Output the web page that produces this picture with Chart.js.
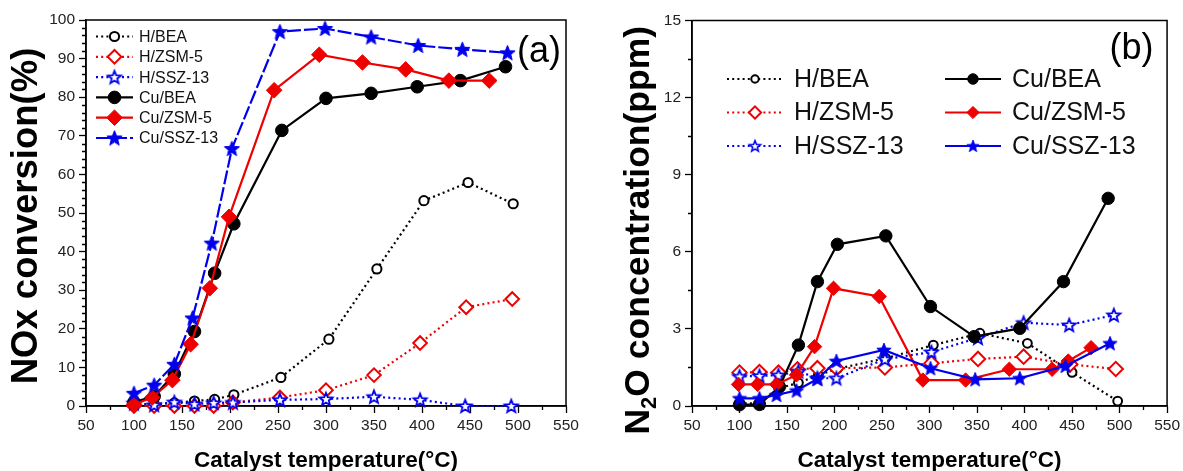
<!DOCTYPE html>
<html><head><meta charset="utf-8">
<script src="https://cdn.jsdelivr.net/npm/chart.js@4.4.1/dist/chart.umd.min.js"></script>
<style>
html,body{margin:0;padding:0;background:#fff;}
#wrap{position:relative;width:1183px;height:471px;overflow:hidden;}
canvas{position:absolute;top:0;}
#a{left:0;}
#b{left:591px;}
</style></head><body>
<div id="wrap"><canvas id="a" width="591" height="471"></canvas><canvas id="b" width="592" height="471"></canvas></div>
<script>
// ---------- DATA ----------
const seriesNames = ["H/BEA", "H/ZSM-5", "H/SSZ-13", "Cu/BEA", "Cu/ZSM-5", "Cu/SSZ-13"];
const xTicks = [50, 100, 150, 200, 250, 300, 350, 400, 450, 500, 550];
const yTicksA = [0, 10, 20, 30, 40, 50, 60, 70, 80, 90, 100];
const yTicksB = [0, 3, 6, 9, 12, 15];

// Panel (a): NOx conversion (%)
const tA_HBEA   = [100, 121, 142, 163, 184, 204, 253, 303, 353, 402, 448, 495];
const noxHBEA   = [0.3, 0.5, 0.8, 1.3, 1.7, 2.9, 7.4, 17.3, 35.5, 53.2, 57.9, 52.4];
const tA_HZSM   = [100, 121, 142, 163, 183, 203, 252, 300, 350, 398, 446, 494];
const noxHZSM   = [0, 0, 0, 0, 0, 0.9, 2.2, 4.1, 8.0, 16.3, 25.6, 27.7];
const tA_HSSZ   = [100, 121, 142, 163, 183, 203, 252, 300, 350, 398, 445, 493];
const noxHSSZ   = [0.7, 0.3, 1.0, 0.5, 0.8, 0.9, 1.6, 1.8, 2.4, 1.6, 0, 0];
const tA_CuBEA  = [100, 121, 142, 163, 184, 204, 254, 300, 347, 395, 440, 487];
const noxCuBEA  = [1.0, 2.5, 8.3, 19.3, 34.4, 47.2, 71.4, 79.7, 81.0, 82.7, 84.3, 87.9];
const tA_CuZSM  = [100, 119, 140, 159, 179, 199, 246, 293, 338, 383, 428, 470];
const noxCuZSM  = [0.4, 2.2, 6.7, 16.0, 30.5, 49.0, 81.8, 91.0, 89.0, 87.2, 84.3, 84.3];
const tA_CuSSZ  = [100, 121, 142, 161, 181, 202, 252, 299, 347, 396, 442, 489];
const noxCuSSZ  = [3.3, 5.4, 10.8, 22.8, 42.2, 66.7, 97.0, 97.8, 95.6, 93.4, 92.4, 91.5];

// Panel (b): N2O concentration (ppm)
const tB_HBEA   = [100, 121, 142, 162, 183, 203, 254, 304, 353, 403, 450, 498];
const n2oHBEA   = [0.1, 0.1, 0.7, 0.9, 1.2, 1.45, 1.86, 2.37, 2.83, 2.44, 1.31, 0.19];
const tB_HZSM   = [100, 121, 141, 161, 182, 202, 253, 302, 351, 399, 448, 496];
const n2oHZSM   = [1.3, 1.32, 1.3, 1.43, 1.47, 1.47, 1.5, 1.66, 1.83, 1.92, 1.62, 1.44];
const tB_HSSZ   = [100, 121, 141, 162, 182, 202, 253, 302, 351, 399, 447, 494];
const n2oHSSZ   = [1.15, 1.17, 1.2, 1.35, 1.08, 1.08, 1.82, 2.1, 2.65, 3.24, 3.15, 3.54];
const tB_CuBEA  = [100, 121, 142, 162, 182, 203, 254, 301, 347, 395, 441, 488];
const n2oCuBEA  = [0.05, 0.06, 0.75, 2.37, 4.84, 6.29, 6.62, 3.87, 2.7, 3.02, 4.84, 8.08];
const tB_CuZSM  = [99, 119, 139, 160, 179, 199, 247, 293, 338, 384, 429, 446, 470];
const n2oCuZSM  = [0.84, 0.84, 0.84, 1.21, 2.31, 4.58, 4.26, 1.01, 1.01, 1.43, 1.43, 1.75, 2.27];
const tB_CuSSZ  = [100, 121, 139, 160, 182, 202, 252, 301, 348, 395, 443, 490];
const n2oCuSSZ  = [0.3, 0.3, 0.43, 0.6, 1.05, 1.75, 2.18, 1.47, 1.04, 1.08, 1.56, 2.44];

// ---------- STYLE ----------
const BLACK = '#000000', RED = '#ee0000', BLUE = '#0000ee';
const FONT = '"Liberation Sans", Arial, Helvetica, sans-serif';

function starPath(g, R) {
  const r = R * 0.43;
  g.beginPath();
  for (let i = 0; i < 10; i++) {
    const a = -Math.PI / 2 + i * Math.PI / 5;
    const rr = (i % 2) ? r : R;
    g.lineTo(Math.cos(a) * rr, Math.sin(a) * rr);
  }
  g.closePath();
}
function starCanvas(R, fill, stroke, lw) {
  const s = Math.ceil(2 * R + lw + 4);
  const c = document.createElement('canvas');
  c.width = s; c.height = s;
  const g = c.getContext('2d');
  g.translate(s / 2, s / 2 + R * 0.08);
  starPath(g, R);
  g.fillStyle = fill; g.fill();
  g.lineWidth = lw; g.strokeStyle = stroke; g.lineJoin = 'miter'; g.stroke();
  return c;
}

function pts(xs, ys) { return xs.map((x, i) => ({ x: x, y: ys[i] })); }

function makeDatasets(panel) {
  const big = panel === 'a';
  const data = panel === 'a'
    ? [[tA_HBEA, noxHBEA], [tA_HZSM, noxHZSM], [tA_HSSZ, noxHSSZ], [tA_CuBEA, noxCuBEA], [tA_CuZSM, noxCuZSM], [tA_CuSSZ, noxCuSSZ]]
    : [[tB_HBEA, n2oHBEA], [tB_HZSM, n2oHZSM], [tB_HSSZ, n2oHSSZ], [tB_CuBEA, n2oCuBEA], [tB_CuZSM, n2oCuZSM], [tB_CuSSZ, n2oCuSSZ]];
  const colors = [BLACK, RED, BLUE, BLACK, RED, BLUE];
  const openStar = starCanvas(6.8, '#ffffff', BLUE, 1.8);
  const fillStar = starCanvas(big ? 8 : 7.5, BLUE, BLUE, 1);
  const styles = [
    { ps: 'circle', r: big ? 4.6 : 4.4, open: true },
    { ps: 'rectRot', r: big ? 6.8 : 7.2, open: true },
    { ps: openStar, r: 7, open: true },
    { ps: 'circle', r: big ? 6.3 : 6.2, open: false },
    { ps: 'rectRot', r: big ? 7.8 : 7.2, open: false },
    { ps: fillStar, r: 8, open: false }
  ];
  const orders = [5, 4, 3, 2, 1, 0];
  return data.map((d, i) => {
    const c = colors[i], st = styles[i], isH = i < 3;
    let dash = isH ? [2, 3.2] : [];
    if (big && i === 5) dash = [14, 3];
    return {
      label: seriesNames[i],
      data: pts(d[0], d[1]),
      borderColor: c,
      backgroundColor: c,
      borderWidth: 2.2,
      borderDash: dash,
      pointStyle: st.ps,
      pointRadius: st.r,
      pointBorderWidth: st.open ? 2 : 1,
      pointBackgroundColor: st.open ? '#ffffff' : c,
      pointBorderColor: c,
      tension: 0,
      clip: false,
      order: orders[i],
      _legendStyle: st
    };
  });
}

// ---------- PLUGINS ----------
const boxPlugin = {
  id: 'box',
  beforeDatasetsDraw(chart) {
    const a = chart.chartArea, ctx = chart.ctx;
    ctx.save();
    ctx.strokeStyle = '#000'; ctx.lineWidth = 1.5;
    ctx.strokeRect(a.left, a.top, a.right - a.left, a.bottom - a.top);
    const o = chart.options.plugins.box;
    const xs = chart.scales.x, ys = chart.scales.y;
    ctx.lineWidth = 1.3;
    const xt = xs.ticks.map(t => t.value), yt = ys.ticks.map(t => t.value);
    ctx.beginPath();
    for (let i = 0; i < xt.length - 1; i++) {
      for (let k = 1; k < o.xMinor; k++) {
        const px = Math.round(xs.getPixelForValue(xt[i] + (xt[i + 1] - xt[i]) * k / o.xMinor)) + 0.5;
        ctx.moveTo(px, a.bottom); ctx.lineTo(px, a.bottom + 4);
      }
    }
    for (let i = 0; i < yt.length - 1; i++) {
      for (let k = 1; k < o.yMinor; k++) {
        const py = Math.round(ys.getPixelForValue(yt[i] + (yt[i + 1] - yt[i]) * k / o.yMinor)) + 0.5;
        ctx.moveTo(a.left, py); ctx.lineTo(a.left - 4, py);
      }
    }
    ctx.stroke();
    ctx.restore();
  }
};

function drawMarker(ctx, ds, x, y, scale) {
  const st = ds._legendStyle, c = ds.borderColor;
  ctx.save();
  if (st.ps instanceof HTMLCanvasElement) {
    const w = st.ps.width * scale, h = st.ps.height * scale;
    ctx.drawImage(st.ps, x - w / 2, y - h / 2, w, h);
  } else {
    const r = st.r * scale;
    ctx.beginPath();
    if (st.ps === 'circle') ctx.arc(x, y, r, 0, Math.PI * 2);
    else { ctx.moveTo(x, y - r); ctx.lineTo(x + r, y); ctx.lineTo(x, y + r); ctx.lineTo(x - r, y); ctx.closePath(); }
    ctx.fillStyle = st.open ? '#fff' : c; ctx.fill();
    ctx.lineWidth = st.open ? 2 : 1; ctx.strokeStyle = c; ctx.stroke();
  }
  ctx.restore();
}

const legendPlugin = {
  id: 'customLegend',
  afterDraw(chart) {
    const o = chart.options.plugins.customLegend, ctx = chart.ctx, a = chart.chartArea;
    ctx.save();
    chart.data.datasets.forEach((ds, i) => {
      const it = o.items[i];
      const y = a.top + it.dy;
      const x0 = a.left + it.dx, x1 = x0 + o.sampleW, xm = (x0 + x1) / 2;
      ctx.beginPath();
      ctx.setLineDash(ds.borderDash.length ? (i < 3 ? [2, 3.2] : ds.borderDash) : []);
      ctx.lineWidth = 2.2; ctx.strokeStyle = ds.borderColor;
      ctx.moveTo(x0, y); ctx.lineTo(x1, y); ctx.stroke();
      ctx.setLineDash([]);
      drawMarker(ctx, ds, xm, y, o.markerScale);
      ctx.fillStyle = '#111';
      ctx.font = o.fontSize + 'px ' + FONT;
      ctx.textBaseline = 'middle'; ctx.textAlign = 'left';
      ctx.fillText(ds.label, x1 + o.gap, y + 1);
    });
    ctx.restore();
  }
};

const titlePlugin = {
  id: 'titles',
  afterDraw(chart) {
    const o = chart.options.plugins.titles, ctx = chart.ctx, a = chart.chartArea;
    ctx.save();
    ctx.fillStyle = '#000';
    ctx.font = 'bold ' + o.xSize + 'px ' + FONT;
    ctx.textAlign = 'center'; ctx.textBaseline = 'alphabetic';
    ctx.fillText(o.xText, (a.left + a.right) / 2, o.xBaseline);
    ctx.translate(a.left - o.yOffset, (a.top + a.bottom) / 2 + o.yShift);
    ctx.rotate(-Math.PI / 2);
    const parts = o.yParts;
    let total = 0;
    parts.forEach(p => {
      ctx.font = 'bold ' + (p.sub ? o.ySize * 0.62 : o.ySize) + 'px ' + FONT;
      p.w = ctx.measureText(p.t).width; total += p.w;
    });
    let x = -total / 2;
    ctx.textAlign = 'left';
    parts.forEach(p => {
      ctx.font = 'bold ' + (p.sub ? o.ySize * 0.62 : o.ySize) + 'px ' + FONT;
      ctx.fillText(p.t, x, p.sub ? o.ySize * 0.2 : 0);
      x += p.w;
    });
    ctx.restore();
    ctx.save();
    ctx.fillStyle = '#000';
    ctx.font = o.tagSize + 'px ' + FONT;
    ctx.textAlign = 'center'; ctx.textBaseline = 'middle';
    ctx.fillText(o.tag, a.right - o.tagDx, a.top + o.tagDy);
    ctx.restore();
  }
};

function axisCfg(ticksArr, min, max, isX, fitSize, tickFont) {
  return {
    type: 'linear', min: min, max: max,
    afterBuildTicks: s => { s.ticks = ticksArr.map(v => ({ value: v })); },
    afterFit: s => { if (isX) s.height = fitSize; else s.width = fitSize; },
    ticks: { font: { family: FONT, size: tickFont }, color: '#222', padding: isX ? 3 : 4, maxRotation: 0, autoSkip: false },
    grid: { drawOnChartArea: false, drawTicks: true, tickLength: 7, tickColor: '#000', tickWidth: 1.3, color: '#000' },
    border: { display: true, color: '#000', width: 1.5 }
  };
}

function makeChart(id, panel) {
  const isA = panel === 'a';
  const yt = isA ? yTicksA : yTicksB;
  return new Chart(document.getElementById(id), {
    type: 'line',
    data: { datasets: makeDatasets(panel) },
    options: {
      responsive: false, animation: false, events: [],
      devicePixelRatio: 1,
      layout: { padding: { left: 0, right: isA ? 25 : 14, top: isA ? 20 : 20.5, bottom: 0 } },
      scales: {
        x: axisCfg(xTicks, 50, 550, true, 65, 15.5),
        y: axisCfg(yt, yt[0], yt[yt.length - 1], false, isA ? 86 : 101, 15.5)
      },
      plugins: {
        legend: { display: false }, tooltip: { enabled: false },
        box: { xMinor: 2, yMinor: isA ? 5 : 2 },
        customLegend: isA ? {
          sampleW: 37, gap: 6, fontSize: 16, markerScale: 1.0,
          items: [0, 1, 2, 3, 4, 5].map(i => ({ dx: 10, dy: 16.5 + i * 20.3 }))
        } : {
          sampleW: 56, gap: 11, fontSize: 25, markerScale: 0.85,
          items: [
            { dx: 35, dy: 58.5 }, { dx: 35, dy: 92 }, { dx: 35, dy: 125.5 },
            { dx: 253, dy: 58.5 }, { dx: 253, dy: 92 }, { dx: 253, dy: 125.5 }
          ]
        },
        titles: isA ? {
          xText: 'Catalyst temperature(°C)', xSize: 22.5, xBaseline: 467,
          ySize: 36.5, yOffset: 49.5, yShift: 3,
          yParts: [{ t: 'NOx conversion(%)' }],
          tag: '(a)', tagSize: 36, tagDx: 27, tagDy: 32
        } : {
          xText: 'Catalyst temperature(°C)', xSize: 22.5, xBaseline: 467,
          ySize: 35.5, yOffset: 43.5, yShift: 17,
          yParts: [{ t: 'N' }, { t: '2', sub: true }, { t: 'O concentration(ppm)' }],
          tag: '(b)', tagSize: 36, tagDx: 35.5, tagDy: 28.5
        }
      }
    },
    plugins: [boxPlugin, legendPlugin, titlePlugin]
  });
}

makeChart('a', 'a');
makeChart('b', 'b');
</script>
</body></html>
